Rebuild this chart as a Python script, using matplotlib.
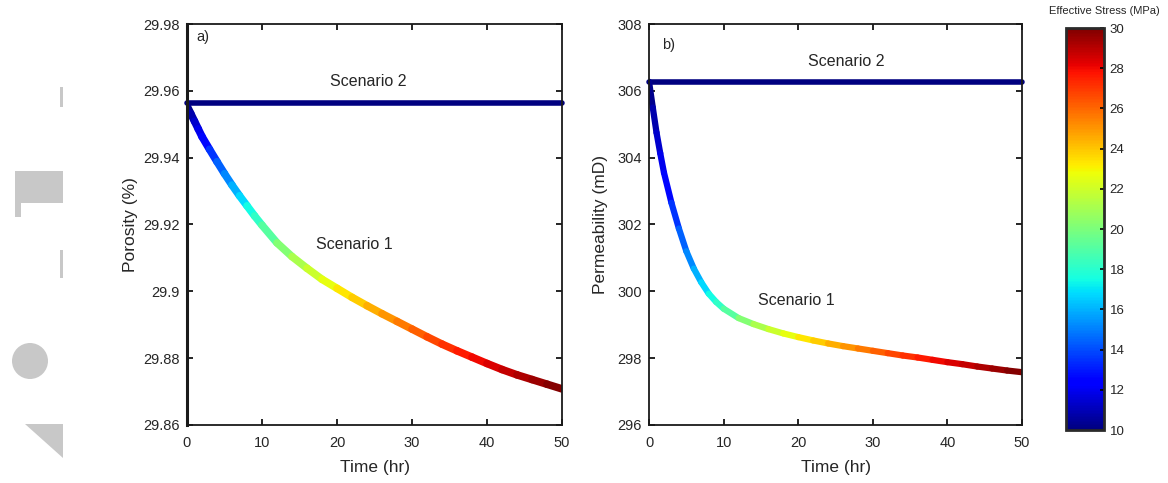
import numpy as np
import matplotlib
matplotlib.use("Agg")
import matplotlib.pyplot as plt
from matplotlib.collections import LineCollection
from matplotlib.patches import Rectangle, Circle, Polygon
from matplotlib.ticker import FuncFormatter

plt.rcParams['font.family'] = ['Liberation Sans', 'DejaVu Sans']

# time steps (hr)
time = [0, 0.5, 1, 1.5, 2, 3, 4, 5, 6, 7, 8, 9, 10, 12, 14, 16, 18, 20, 22, 24,
        26, 28, 30, 32, 34, 36, 38, 40, 42, 44, 46, 48, 50]

# effective stress (MPa) along scenario 1
stress = [10, 10.6, 11.1, 11.7, 12.2, 13.1, 14.0, 14.8, 15.6, 16.4, 17.1, 17.8, 18.5,
          19.7, 20.7, 21.5, 22.3, 23.0, 23.6, 24.2, 24.8, 25.3, 25.8, 26.4, 26.9,
          27.4, 27.8, 28.2, 28.6, 29.0, 29.3, 29.7, 30.0]

# scenario 1 porosity (%)
poro_s1 = [29.9555, 29.9532, 29.9509, 29.9486, 29.9463, 29.9425, 29.9388, 29.9352,
           29.9318, 29.9286, 29.9256, 29.9226, 29.9198, 29.9145, 29.9104, 29.9069,
           29.9036, 29.9009, 29.8982, 29.8957, 29.8933, 29.8910, 29.8887, 29.8864,
           29.8842, 29.8822, 29.8803, 29.8784, 29.8766, 29.8750, 29.8736, 29.8722,
           29.8708]

# scenario 1 permeability (mD)
perm_s1 = [306.27, 305.5, 304.75, 304.13, 303.55, 302.65, 301.88, 301.2, 300.68,
           300.27, 299.93, 299.68, 299.48, 299.2, 299.02, 298.87, 298.74, 298.63,
           298.53, 298.44, 298.36, 298.29, 298.22, 298.15, 298.08, 298.02, 297.95,
           297.88, 297.82, 297.75, 297.69, 297.63, 297.58]

# scenario 2 stays at initial stress
poro_s2 = 29.9563
perm_s2 = 306.27
stress_s2 = 10

xticks = [0, 10, 20, 30, 40, 50]
poro_ticks = [29.86, 29.88, 29.90, 29.92, 29.94, 29.96, 29.98]
perm_ticks = [296, 298, 300, 302, 304, 306, 308]
cbar_ticks = [10, 12, 14, 16, 18, 20, 22, 24, 26, 28, 30]

cmap = plt.get_cmap('jet')
norm = plt.Normalize(10, 30)
txtcol = '#262626'

fig = plt.figure(figsize=(11.68, 4.83), dpi=100)
fig.patch.set_facecolor('white')

W, H = 1168.0, 483.0


def fx(px):
    return px / W


def fy(py):
    return 1 - py / H


# gray shapes on the left edge
gray = '#c8c8c8'
shapes = [
    Rectangle((fx(60), fy(107)), 3 / W, 20 / H),
    Rectangle((fx(15), fy(203)), 48 / W, 32 / H),
    Rectangle((fx(15), fy(217)), 6 / W, 14 / H),
    Rectangle((fx(60), fy(278)), 3 / W, 28 / H),
    Polygon([(fx(25), fy(424)), (fx(63), fy(424)), (fx(63), fy(458))]),
]
for s in shapes:
    s.set_transform(fig.transFigure)
    s.set_facecolor(gray)
    s.set_edgecolor('none')
    fig.add_artist(s)
circ = Circle((30, H - 361), 18, transform=None, facecolor=gray, edgecolor='none')
fig.add_artist(circ)

ax1 = fig.add_axes([0.1601, 0.1201, 0.3211, 0.8302])
ax2 = fig.add_axes([0.5557, 0.1201, 0.3193, 0.8302])
cax = fig.add_axes([0.9127, 0.1097, 0.0325, 0.8323])


def colored_curve(ax, t, y, c, lw):
    pts = np.column_stack([t, y])
    segs = np.stack([pts[:-1], pts[1:]], axis=1)
    cvals = (np.array(c[:-1]) + np.array(c[1:])) / 2
    lc = LineCollection(segs, cmap=cmap, norm=norm, linewidths=lw, capstyle='round')
    lc.set_array(cvals)
    ax.add_collection(lc)
    return lc


t = np.array(time)
navy = cmap(norm(stress_s2))

# panel a
ax1.plot(t, np.full(len(t), poro_s2), color=navy, lw=4, solid_capstyle='round', clip_on=False)
colored_curve(ax1, time, poro_s1, stress, 5.5)
ax1.set_xlim(0, 50)
ax1.set_ylim(29.86, 29.98)
ax1.set_xticks(xticks)
ax1.set_yticks(poro_ticks)
ax1.yaxis.set_major_formatter(FuncFormatter(lambda v, p: '%g' % round(v, 2)))
ax1.set_xlabel('Time (hr)', fontsize=12.5, color=txtcol, labelpad=7)
ax1.set_ylabel('Porosity (%)', fontsize=12.5, color=txtcol, labelpad=4)
ax1.text(0.025, 0.985, 'a)', transform=ax1.transAxes, fontsize=10.5, va='top', color=txtcol)
ax1.text(24.2, 29.9628, 'Scenario 2', fontsize=11.5, ha='center', va='center', color=txtcol)
ax1.text(22.3, 29.9139, 'Scenario 1', fontsize=11.5, ha='center', va='center', color=txtcol)

# panel b
ax2.plot(t, np.full(len(t), perm_s2), color=navy, lw=4, solid_capstyle='round', clip_on=False)
colored_curve(ax2, time, perm_s1, stress, 4.5)
ax2.set_xlim(0, 50)
ax2.set_ylim(296, 308)
ax2.set_xticks(xticks)
ax2.set_yticks(perm_ticks)
ax2.set_xlabel('Time (hr)', fontsize=12.5, color=txtcol, labelpad=7)
ax2.set_ylabel('Permeability (mD)', fontsize=12.5, color=txtcol, labelpad=7)
ax2.text(0.035, 0.965, 'b)', transform=ax2.transAxes, fontsize=10.5, va='top', color=txtcol)
ax2.text(26.4, 306.87, 'Scenario 2', fontsize=11.5, ha='center', va='center', color=txtcol)
ax2.text(19.7, 299.72, 'Scenario 1', fontsize=11.5, ha='center', va='center', color=txtcol)

for ax in (ax1, ax2):
    ax.tick_params(direction='in', length=4, width=1.2, top=True, right=True,
                   labelsize=10.5, labelcolor=txtcol)
    ax.tick_params(axis='x', pad=8)
    ax.tick_params(axis='y', pad=5)
    for sp in ax.spines.values():
        sp.set_linewidth(1.3)
        sp.set_color('#1a1a1a')
ax1.spines['left'].set_linewidth(2.2)

# colorbar
sm = plt.cm.ScalarMappable(cmap=cmap, norm=norm)
cb = fig.colorbar(sm, cax=cax, ticks=cbar_ticks)
cb.outline.set_linewidth(2)
cb.outline.set_edgecolor('#2a2a2a')
cax.tick_params(direction='in', length=3, width=1.2, labelsize=9.5, labelcolor=txtcol, pad=4)
cax.set_title('Effective Stress (MPa)', fontsize=8, color=txtcol, pad=10, x=1.0)

fig.savefig('out.png', dpi=100)
